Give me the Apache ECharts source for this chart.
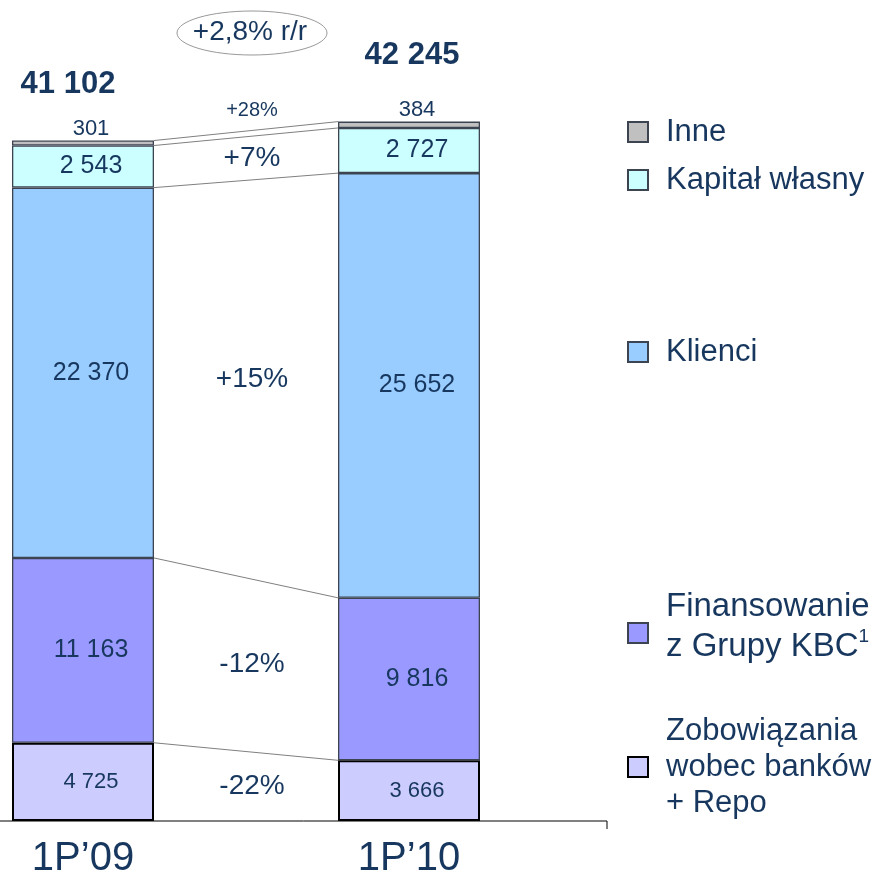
<!DOCTYPE html>
<html>
<head>
<meta charset="utf-8">
<script src="https://cdn.jsdelivr.net/npm/echarts@6/dist/echarts.min.js"></script>
<style>
  html, body { margin: 0; padding: 0; background: #fff; }
  #chart { width: 883px; height: 873px; }
</style>
</head>
<body>
<div id="chart"></div>
<script>
// data
const categories = ['1P’09', '1P’10'];
const seriesNames = ['Zobowiązania\nwobec banków\n+ Repo', 'Finansowanie\nz Grupy KBC¹', 'Klienci', 'Kapitał własny', 'Inne'];
const zobowiazania = [4725, 3666];
const finansowanie = [11163, 9816];
const klienci = [22370, 25652];
const kapital = [2543, 2727];
const inne = [301, 384];

const TXT = '#17375E';
const FONT = '"Liberation Sans", Arial, sans-serif';
const colors = ['#CCCCFF', '#9999FF', '#99CCFF', '#CCFFFF', '#C0C0C0'];
const barWidth = 142;

const stacks = [zobowiazania, finansowanie, klienci, kapital, inne];
const totals = [0, 1].map(c => stacks.reduce((s, a) => s + a[c], 0));
// cumulative top / bottom of each layer, per category
const cumTop = stacks.map((_, i) => [0, 1].map(c => stacks.slice(0, i + 1).reduce((s, a) => s + a[c], 0)));
const cumBottom = stacks.map((_, i) => [0, 1].map(c => stacks.slice(0, i).reduce((s, a) => s + a[c], 0)));

const fmt = v => String(v).replace(/\B(?=(\d{3})+(?!\d))/g, ' ');
const pct = (a, b) => {
  const p = Math.round((b / a - 1) * 100);
  return (p > 0 ? '+' : '') + p + '%';
};
const changes = stacks.map(a => pct(a[0], a[1]));
const totalChange = ((totals[1] / totals[0] - 1) * 100).toFixed(1).replace('.', ',');

const chart = echarts.init(document.getElementById('chart'));

const labelSizes = [22, 25, 25, 25, 22];
const barSeries = stacks.map((arr, i) => ({
  name: seriesNames[i],
  type: 'bar',
  stack: 'total',
  barWidth: barWidth,
  clip: false,
  data: arr,
  itemStyle: {
    color: colors[i],
    borderColor: i === 0 ? '#000' : '#3c4452',
    borderWidth: i === 0 ? 2 : 1.3
  },
  label: {
    show: true,
    position: i === 4 ? 'top' : 'inside',
    distance: 1,
    offset: [8, 0],
    formatter: p => fmt(p.value),
    fontSize: labelSizes[i],
    color: TXT,
    fontFamily: FONT
  },
  emphasis: { disabled: true }
}));

// legend layout (per item)
const legendTops = [713, 587, 332, 160, 112];
const legendFont = [31, 33, 31, 31, 31];
const legendLine = [36, 40, 40, 40, 40];
const legendPad = [[0, 0, 0, 13], [0, 0, 12, 13], [0, 0, 0, 13], [0, 0, 0, 13], [0, 0, 0, 13]];

const option = {
  animation: false,
  backgroundColor: '#fff',
  grid: { left: 83, right: 474, top: 76, bottom: 52, outerBoundsMode: 'none', containLabel: false },
  xAxis: {
    type: 'category',
    data: categories,
    boundaryGap: false,
    axisLine: { show: false },
    axisTick: { show: false },
    splitLine: { show: false },
    axisLabel: { fontSize: 40, color: TXT, fontFamily: FONT, margin: 18 }
  },
  yAxis: { type: 'value', min: 0, max: 45000, show: false },
  legend: seriesNames.map((n, i) => ({
    data: [n],
    left: 627,
    top: legendTops[i],
    padding: 0,
    itemWidth: 20,
    itemHeight: 20,
    selectedMode: false,
    icon: 'rect',
    formatter: name => name.replace('¹', '{sup|1}'),
    textStyle: {
      fontSize: legendFont[i], lineHeight: legendLine[i], color: TXT, fontFamily: FONT, padding: legendPad[i],
      rich: { sup: { fontSize: 19, lineHeight: 26, verticalAlign: 'top', color: TXT, fontFamily: FONT } }
    }
  })),
  series: barSeries.concat([
    {
      type: 'scatter',
      symbolSize: 0,
      itemStyle: { opacity: 1 },
      data: totals.map((v, i) => ({
        value: v,
        label: { offset: i === 0 ? [-15, -56] : [3, -66] }
      })),
      label: {
        show: true,
        position: 'inside',
        formatter: p => fmt(p.value),
        fontSize: 31,
        fontWeight: 'bold',
        color: TXT,
        fontFamily: FONT
      },
      silent: true
    },
    {
      type: 'custom',
      silent: true,
      encode: { x: 0, y: [1, 2] },
      data: cumTop.map(t => [0, t[0], t[1]]),
      renderItem: (params, api) => {
        const a = api.coord([0, api.value(1)]);
        const b = api.coord([1, api.value(2)]);
        const half = barWidth / 2;
        return {
          type: 'line',
          shape: { x1: a[0] + half, y1: a[1], x2: b[0] - half, y2: b[1] },
          style: { stroke: '#808080', lineWidth: 1 }
        };
      }
    },
    {
      type: 'custom',
      silent: true,
      encode: { x: 0, y: [1, 2] },
      data: stacks.map((_, i) => [0, (cumTop[i][0] + cumBottom[i][0]) / 2, (cumTop[i][1] + cumBottom[i][1]) / 2]),
      renderItem: (params, api) => {
        const a = api.coord([0, api.value(1)]);
        const b = api.coord([1, api.value(2)]);
        const small = params.dataIndex === 4;
        return {
          type: 'text',
          x: (a[0] + b[0]) / 2 + 6,
          y: (a[1] + b[1]) / 2 + (small ? -23 : 0),
          style: {
            text: changes[params.dataIndex],
            fontSize: small ? 20 : 28,
            fontFamily: FONT,
            fill: TXT,
            align: 'center',
            verticalAlign: 'middle'
          }
        };
      }
    }
  ]),
  graphic: [
    { type: 'line', shape: { x1: 0, y1: 821, x2: 607, y2: 821 }, style: { stroke: '#000', lineWidth: 1 } },
    { type: 'line', shape: { x1: 607, y1: 821, x2: 607, y2: 829 }, style: { stroke: '#000', lineWidth: 1 } },
    { type: 'ellipse', shape: { cx: 252, cy: 33, rx: 75, ry: 22 }, style: { fill: 'none', stroke: '#999', lineWidth: 1 } },
    {
      type: 'text', x: 250, y: 32,
      style: { text: '+' + totalChange + '% r/r', fontSize: 28, fontFamily: FONT, fill: TXT, align: 'center', verticalAlign: 'middle' }
    }
  ]
};

chart.setOption(option);
</script>
</body>
</html>
